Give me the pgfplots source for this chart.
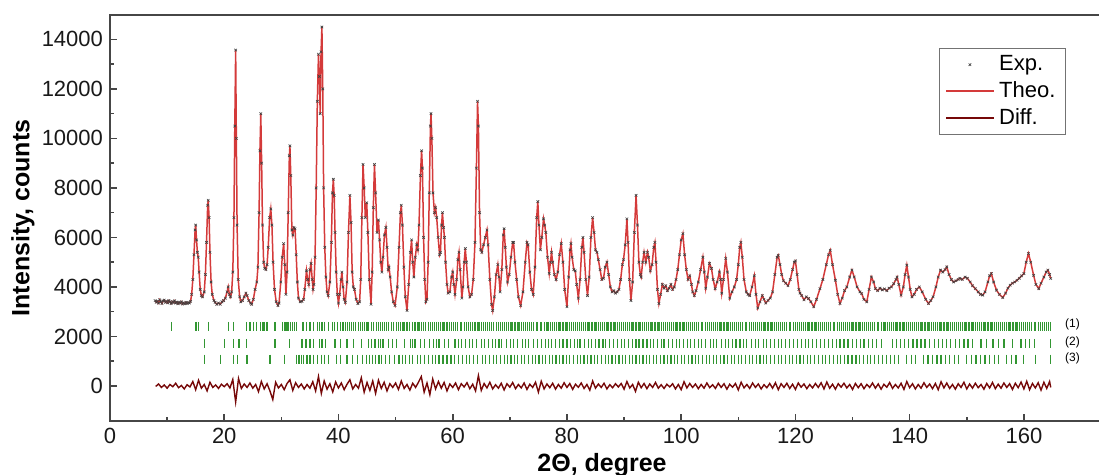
\documentclass[border=0pt]{standalone}
\usepackage{fontspec}
\setmainfont{Liberation Sans}
\usepackage{pgfplots}
\pgfplotsset{compat=1.18}
\usepackage{pgfplotstable}
\definecolor{theo}{RGB}{212,58,58}
\definecolor{diffc}{RGB}{118,8,8}
\definecolor{tickgreen}{RGB}{50,150,50}
\definecolor{axgray}{RGB}{70,70,70}
\pgfplotsset{
  mylineleg/.style={legend image code/.code={\draw[##1] (0cm,0cm) -- (0.85cm,0cm);}},
  mymarkleg/.style={legend image code/.code={\draw[##1] plot coordinates {(0.42cm,0cm)};}},
}

\pgfplotstableread{
x y
7.9 3450
8.1 3380
8.3 3420
8.5 3350
8.7 3480
8.9 3400
9.1 3330
9.3 3440
9.5 3470
9.7 3380
9.9 3420
10.1 3360
10.3 3450
10.5 3400
10.7 3330
10.9 3410
11.1 3370
11.3 3440
11.5 3350
11.7 3390
11.9 3320
12.1 3380
12.3 3340
12.5 3400
12.7 3310
12.9 3360
13.1 3320
13.3 3380
13.5 3330
13.7 3370
13.9 3350
14.1 3420
14.3 3700
14.5 4300
14.7 5300
14.9 6300
15.0 6500
15.15 5900
15.3 5400
15.45 5200
15.6 4600
15.8 3900
16.0 3650
16.2 3600
16.5 3800
16.7 4500
16.9 5800
17.1 7300
17.2 7500
17.35 6800
17.5 5400
17.7 4200
17.9 3700
18.2 3450
18.4 3380
18.7 3300
19.0 3350
19.3 3300
19.6 3400
19.9 3450
20.2 3550
20.5 3800
20.7 4000
20.9 3700
21.1 3600
21.3 3800
21.5 4600
21.7 6800
21.85 10500
22.0 13570
22.12 10000
22.25 6500
22.45 4300
22.7 3600
22.9 3400
23.2 3450
23.5 3600
23.8 3750
24.0 3650
24.3 3450
24.6 3350
24.8 3300
25.1 3500
25.4 3900
25.7 4200
25.9 4800
26.1 7000
26.25 9500
26.4 11000
26.55 9000
26.7 6500
26.9 5000
27.1 4750
27.3 4700
27.5 4900
27.7 5600
27.95 6800
28.15 7150
28.35 6500
28.55 5000
28.8 3900
29.1 3400
29.4 3250
29.6 3350
29.9 4200
30.15 5200
30.4 5750
30.6 4900
30.8 3700
31.0 4600
31.2 7000
31.4 9300
31.5 9700
31.65 8500
31.85 6300
32.0 6100
32.2 6400
32.4 6350
32.6 5300
32.8 4200
33.0 3550
33.3 3400
33.6 3420
33.9 3500
34.1 3900
34.4 4650
34.6 4300
34.8 4100
35.0 4700
35.2 4950
35.4 4300
35.55 3900
35.7 4100
35.9 5200
36.1 8000
36.3 11500
36.5 13400
36.65 12500
36.8 11000
36.95 13500
37.1 14500
37.25 12000
37.4 8000
37.6 5600
37.8 4400
38.0 3800
38.2 3650
38.5 4200
38.75 5800
38.95 7800
39.1 8350
39.25 7700
39.4 6200
39.6 4600
39.8 3700
40.0 3350
40.2 3700
40.45 4300
40.6 4600
40.8 4000
41.0 3500
41.2 3380
41.5 4200
41.75 6200
42.0 7700
42.2 6600
42.4 4600
42.6 4000
42.8 3900
43.1 3500
43.4 3330
43.7 3400
43.9 4300
44.1 6800
44.3 8950
44.5 8000
44.7 6800
44.95 7400
45.15 6200
45.4 4300
45.7 3300
45.9 4600
46.1 7200
46.3 8950
46.5 7800
46.75 6200
47.0 6700
47.2 5900
47.4 5000
47.6 4600
47.8 5200
48.05 6100
48.3 6400
48.5 5600
48.7 4700
48.85 4800
49.05 4400
49.3 3800
49.6 3400
49.9 3250
50.3 4000
50.6 5600
50.85 7000
51.0 7300
51.2 6500
51.45 4800
51.7 3600
52.0 3050
52.3 4100
52.6 5400
52.8 5900
53.0 5000
53.2 4400
53.45 5200
53.7 5700
53.9 5500
54.1 6500
54.35 8500
54.55 9500
54.7 8800
54.9 6000
55.1 4300
55.3 3400
55.5 3500
55.7 5000
55.9 7800
56.1 10500
56.2 11000
56.35 10000
56.55 7800
56.8 7000
57.0 7200
57.2 6800
57.45 6000
57.7 5300
57.85 5400
58.05 6500
58.2 7000
58.4 6400
58.55 6000
58.75 5000
59.0 4100
59.2 3750
59.5 3800
59.8 4400
60.0 4600
60.2 4100
60.4 3700
60.7 4300
60.9 5100
61.1 5400
61.3 4700
61.6 3550
61.8 4000
62.0 5000
62.2 5550
62.4 5000
62.7 4000
63.0 3600
63.3 3700
63.6 4300
63.9 5800
64.15 8800
64.35 11500
64.5 10500
64.7 7000
64.9 5500
65.1 5400
65.4 5700
65.7 6000
66.0 6300
66.2 5700
66.5 4300
66.8 3300
67.0 3050
67.3 3600
67.6 4500
67.9 4900
68.1 4400
68.3 3800
68.6 4700
68.85 6100
69.0 6350
69.2 5600
69.4 4800
69.6 4200
69.9 4500
70.2 5200
70.5 5800
70.65 5800
70.9 5000
71.2 4300
71.5 3600
71.9 3250
72.3 3800
72.7 5000
73.0 5800
73.2 5700
73.5 4600
73.8 3900
74.1 3700
74.4 4800
74.7 6800
74.9 7450
75.1 6500
75.35 5500
75.6 6000
75.9 6750
76.1 6500
76.3 6200
76.6 5200
76.9 4550
77.1 5000
77.3 5400
77.5 5000
77.8 4500
78.1 4300
78.4 4600
78.7 5300
79.0 5750
79.3 5000
79.6 3900
80.0 3200
80.3 4400
80.55 5500
80.7 5750
80.9 5200
81.2 4700
81.45 4650
81.7 4100
82.0 3550
82.3 4300
82.6 5600
82.8 6000
83.0 5400
83.3 4300
83.6 3650
83.9 4400
84.2 6000
84.5 6800
84.75 6200
85.0 5500
85.25 5400
85.5 5100
85.8 4700
86.1 4300
86.4 4350
86.7 4800
87.0 5000
87.3 4500
87.6 4000
87.9 3800
88.2 3850
88.5 3750
88.8 3800
89.1 3900
89.4 4300
89.7 4900
89.9 5100
90.2 5700
90.5 6750
90.7 5800
90.95 4300
91.2 3450
91.5 4200
91.8 6200
92.1 7700
92.35 6500
92.6 5000
92.85 4500
93.0 4400
93.25 5000
93.5 5400
93.8 5000
94.1 5400
94.3 5200
94.6 4650
94.9 4900
95.2 5600
95.4 5800
95.6 5000
95.85 3900
96.1 3330
96.4 3700
96.7 4100
97.0 3950
97.3 4050
97.6 3850
97.9 3950
98.2 4100
98.5 3900
98.8 4000
99.1 4300
99.4 4700
99.7 5300
100.0 5900
100.3 6150
100.6 5300
100.9 4700
101.2 4300
101.5 4450
101.8 4100
102.0 3800
102.3 3650
102.6 3850
103.0 4200
103.4 4700
103.8 5200
104.05 4600
104.3 3950
104.6 4400
104.95 4950
105.3 4750
105.6 4300
105.95 3930
106.3 4200
106.7 4600
106.9 4300
107.1 3750
107.4 4300
107.8 5150
108.1 4600
108.5 3550
108.9 3800
109.3 4000
109.7 4300
110.0 4900
110.25 5600
110.45 5800
110.7 5200
111.0 4300
111.4 3800
111.7 3700
112.0 3650
112.4 4000
112.8 4450
113.1 3700
113.4 3150
113.8 3400
114.2 3650
114.5 3500
114.8 3350
115.2 3450
115.6 3550
116.0 3800
116.4 4500
116.8 5200
117.0 5280
117.3 4900
117.6 4500
117.9 4250
118.3 4150
118.7 4050
119.1 4300
119.5 4700
119.8 5000
120.0 5050
120.3 4500
120.6 3900
120.8 3750
121.1 3650
121.5 3480
121.9 3600
122.3 3530
122.7 3400
123.2 3200
123.7 3500
124.3 3930
124.8 4300
125.4 4900
125.8 5300
126.1 5480
126.5 4900
127.0 4270
127.4 3700
127.8 3330
128.2 3550
128.6 3850
129.0 4000
129.5 4400
129.9 4680
130.3 4400
130.8 4000
131.3 3800
131.6 3730
132.0 3500
132.5 3400
132.9 3900
133.3 4400
133.7 4200
134.0 3930
134.4 3850
134.8 3950
135.2 3880
135.6 3920
136.0 3850
136.4 3950
136.8 4000
137.2 4130
137.6 4300
137.8 4400
138.1 4100
138.5 3670
138.9 4000
139.2 4500
139.5 4880
139.8 4400
140.1 3900
140.4 3600
140.8 3700
141.2 3900
141.7 4000
142.2 3800
142.8 3500
143.3 3330
143.7 3450
144.1 3600
144.6 4000
145.0 4400
145.4 4680
145.8 4600
146.2 4700
146.5 4810
146.9 4500
147.3 4300
147.7 4200
148.1 4250
148.5 4300
148.8 4350
149.2 4300
149.7 4400
150.1 4350
150.6 4200
151.0 4050
151.5 3930
152.0 3800
152.4 3700
152.8 3670
153.2 3800
153.7 4200
154.0 4450
154.3 4540
154.7 4200
155.2 3870
155.7 3700
156.3 3570
156.8 3750
157.2 3950
157.6 4070
158.0 4150
158.4 4200
158.8 4270
159.2 4350
159.6 4450
160.0 4540
160.4 5000
160.8 5350
161.2 5000
161.7 4470
162.1 4100
162.6 3930
163.0 4150
163.5 4400
163.9 4600
164.2 4680
164.5 4500
164.7 4340
}\profile

\pgfplotstableread{
x y
8.0 -20
8.5 80
9.0 -60
9.5 40
10.0 -90
10.5 60
11.0 -30
11.5 110
12.0 -70
12.5 20
13.0 -120
13.5 50
14.0 -40
14.5 180
15.0 -150
15.5 230
16.0 -90
16.5 60
17.0 -200
17.5 150
18.0 -60
18.5 40
19.0 -100
19.5 70
20.0 -30
20.5 90
21.0 -80
21.5 260
22.0 -650
22.5 300
23.0 -100
23.5 80
24.0 -60
24.5 120
25.0 -90
25.5 60
26.0 -230
26.5 180
27.0 -120
27.5 90
28.0 -200
28.5 -550
29.0 150
29.5 -80
30.0 60
30.5 -150
31.0 100
31.5 250
32.0 -180
32.5 130
33.0 -60
33.5 80
34.0 -120
34.5 60
35.0 -90
35.5 170
36.0 -200
36.5 380
37.0 -300
37.5 200
38.0 -130
38.5 90
39.0 -240
39.5 160
40.0 -80
40.5 120
41.0 -150
41.5 70
42.0 250
42.5 -120
43.0 60
43.5 -90
44.0 330
44.5 -250
45.0 140
45.5 -180
46.0 200
46.5 -300
47.0 230
47.5 -100
48.0 150
48.5 -200
49.0 90
49.5 -60
50.0 120
50.5 -140
51.0 200
51.5 -100
52.0 60
52.5 -170
53.0 110
53.5 -60
54.0 150
54.5 380
55.0 -250
55.5 120
56.0 -350
56.5 280
57.0 -120
57.5 180
58.0 -90
58.5 140
59.0 -200
59.5 80
60.0 -60
60.5 120
61.0 -150
61.5 90
62.0 -40
62.5 130
63.0 -110
63.5 70
64.0 -200
64.5 420
65.0 -180
65.5 100
66.0 -80
66.5 150
67.0 -120
67.5 50
68.0 -90
68.5 110
69.0 -160
69.5 90
70.0 -50
70.5 140
71.0 -110
71.5 60
72.0 -80
72.5 120
73.0 -140
73.5 70
74.0 -60
74.5 150
75.0 -250
75.5 190
76.0 -120
76.5 80
77.0 -70
77.5 110
78.0 -130
78.5 60
79.0 -90
79.5 130
80.0 -60
80.5 100
81.0 -140
81.5 70
82.0 -50
82.5 120
83.0 -100
83.5 60
84.0 -170
84.5 200
85.0 -90
85.5 80
86.0 -60
86.5 110
87.0 -120
87.5 50
88.0 -70
88.5 90
89.0 -40
89.5 100
90.0 -130
90.5 180
91.0 -80
91.5 60
92.0 -220
92.5 150
93.0 -70
93.5 100
94.0 -110
94.5 80
95.0 -60
95.5 140
96.0 -90
96.5 50
97.0 -100
97.5 70
98.0 -40
98.5 90
99.0 -120
99.5 60
100.0 -150
100.5 170
101.0 -80
101.5 100
102.0 -60
102.5 80
103.0 -110
103.5 60
104.0 -90
104.5 120
105.0 -70
105.5 50
106.0 -100
106.5 110
107.0 -60
107.5 90
108.0 -130
108.5 70
109.0 -50
109.5 100
110.0 -160
110.5 150
111.0 -80
111.5 60
112.0 -100
112.5 120
113.0 -60
113.5 80
114.0 -120
114.5 50
115.0 -70
115.5 100
116.0 -90
116.5 130
117.0 -150
117.5 90
118.0 -60
118.5 110
119.0 -100
119.5 70
120.0 -140
120.5 120
121.0 -50
121.5 80
122.0 -110
122.5 60
123.0 -80
123.5 100
124.0 -60
124.5 130
125.0 -120
125.5 160
126.0 -90
126.5 70
127.0 -130
127.5 90
128.0 -50
128.5 110
129.0 -80
129.5 60
130.0 -140
130.5 100
131.0 -70
131.5 90
132.0 -110
132.5 60
133.0 -60
133.5 120
134.0 -90
134.5 80
135.0 -130
135.5 70
136.0 -50
136.5 140
137.0 -100
137.5 60
138.0 -80
138.5 110
139.0 -140
139.5 180
140.0 -70
140.5 90
141.0 -120
141.5 60
142.0 -90
142.5 130
143.0 -60
143.5 80
144.0 -110
144.5 100
145.0 -150
145.5 170
146.0 -80
146.5 120
147.0 -100
147.5 60
148.0 -130
148.5 90
149.0 -60
149.5 150
150.0 -120
150.5 80
151.0 -90
151.5 110
152.0 -70
152.5 60
153.0 -130
153.5 100
154.0 -80
154.5 140
155.0 -110
155.5 70
156.0 -90
156.5 120
157.0 -60
157.5 90
158.0 -140
158.5 110
159.0 -70
159.5 160
160.0 -120
160.5 190
161.0 -150
161.5 100
162.0 -80
162.5 130
163.0 -170
163.5 150
164.0 -100
164.5 180
164.7 -60
}\diffdata

\pgfplotstableread[row sep=\\]{
x \\ 10.8 \\ 15.05 \\ 15.45 \\ 17.2 \\ 20.7 \\ 21.6 \\ 23.9 \\ 24.5 \\ 25.1 \\ 25.7 \\ 26.3 \\ 26.8 \\ 27.1 \\ 27.5 \\ 28.9 \\ 30.2 \\ 30.5 \\ 30.8 \\ 31.0 \\ 31.3 \\ 31.6 \\ 31.9 \\ 32.3 \\ 32.7 \\ 33.8 \\ 34.4 \\ 35.0 \\ 35.6 \\ 36.3 \\ 36.7 \\ 37.1 \\ 37.5 \\ 38.3 \\ 38.9 \\ 39.3 \\ 39.8 \\ 40.3 \\ 40.8 \\ 41.2 \\ 41.6 \\ 41.9 \\ 42.3 \\ 42.7 \\ 43.0 \\ 43.5 \\ 43.8 \\ 44.2 \\ 44.6 \\ 45.0 \\ 45.3 \\ 45.8 \\ 46.2 \\ 46.6 \\ 47.0 \\ 47.3 \\ 47.7 \\ 48.0 \\ 48.4 \\ 48.8 \\ 49.3 \\ 49.7 \\ 50.1 \\ 50.5 \\ 50.9 \\ 51.3 \\ 51.6 \\ 52.0 \\ 52.5 \\ 52.9 \\ 53.4 \\ 53.8 \\ 54.1 \\ 54.5 \\ 54.9 \\ 55.3 \\ 55.7 \\ 56.1 \\ 56.4 \\ 56.8 \\ 57.2 \\ 57.5 \\ 57.9 \\ 58.3 \\ 58.6 \\ 59.0 \\ 59.4 \\ 59.8 \\ 60.1 \\ 60.5 \\ 60.9 \\ 61.3 \\ 61.6 \\ 62.0 \\ 62.4 \\ 62.7 \\ 63.1 \\ 63.5 \\ 63.9 \\ 64.3 \\ 64.6 \\ 65.0 \\ 65.4 \\ 65.7 \\ 66.1 \\ 66.5 \\ 66.8 \\ 67.2 \\ 67.6 \\ 68.0 \\ 68.3 \\ 68.7 \\ 69.1 \\ 69.4 \\ 69.8 \\ 70.2 \\ 70.5 \\ 70.9 \\ 71.3 \\ 71.6 \\ 72.0 \\ 72.4 \\ 72.7 \\ 73.1 \\ 73.5 \\ 73.8 \\ 74.2 \\ 74.6 \\ 74.9 \\ 75.3 \\ 75.6 \\ 76.0 \\ 76.4 \\ 76.7 \\ 77.1 \\ 77.5 \\ 77.8 \\ 78.2 \\ 78.6 \\ 78.9 \\ 79.3 \\ 79.7 \\ 80.0 \\ 80.4 \\ 80.8 \\ 81.1 \\ 81.5 \\ 81.9 \\ 82.2 \\ 82.6 \\ 82.9 \\ 83.3 \\ 83.7 \\ 84.0 \\ 84.4 \\ 84.8 \\ 85.1 \\ 85.5 \\ 85.9 \\ 86.2 \\ 86.6 \\ 87.0 \\ 87.3 \\ 87.7 \\ 88.1 \\ 88.4 \\ 88.8 \\ 89.2 \\ 89.5 \\ 89.9 \\ 90.3 \\ 90.6 \\ 91.0 \\ 91.4 \\ 91.7 \\ 92.1 \\ 92.5 \\ 92.8 \\ 93.2 \\ 93.6 \\ 93.9 \\ 94.3 \\ 94.7 \\ 95.0 \\ 95.4 \\ 95.8 \\ 96.1 \\ 96.5 \\ 96.9 \\ 97.2 \\ 97.6 \\ 98.0 \\ 98.3 \\ 98.7 \\ 99.1 \\ 99.4 \\ 99.8 \\ 100.2 \\ 100.5 \\ 100.9 \\ 101.3 \\ 101.6 \\ 102.0 \\ 102.4 \\ 102.7 \\ 103.1 \\ 103.5 \\ 103.8 \\ 104.2 \\ 104.6 \\ 104.9 \\ 105.3 \\ 105.7 \\ 106.0 \\ 106.4 \\ 106.8 \\ 107.1 \\ 107.5 \\ 107.9 \\ 108.2 \\ 108.6 \\ 109.0 \\ 109.3 \\ 109.7 \\ 110.1 \\ 110.4 \\ 110.8 \\ 111.2 \\ 111.5 \\ 111.9 \\ 112.3 \\ 112.6 \\ 113.0 \\ 113.4 \\ 113.7 \\ 114.1 \\ 114.5 \\ 114.8 \\ 115.2 \\ 115.6 \\ 115.9 \\ 116.3 \\ 116.7 \\ 117.0 \\ 117.4 \\ 117.8 \\ 118.1 \\ 118.5 \\ 118.9 \\ 119.2 \\ 119.6 \\ 120.0 \\ 120.3 \\ 120.7 \\ 121.1 \\ 121.4 \\ 121.8 \\ 122.2 \\ 122.5 \\ 122.9 \\ 123.3 \\ 123.6 \\ 124.0 \\ 124.4 \\ 124.7 \\ 125.1 \\ 125.5 \\ 125.8 \\ 126.2 \\ 126.6 \\ 126.9 \\ 127.3 \\ 127.7 \\ 128.0 \\ 128.4 \\ 128.8 \\ 129.1 \\ 129.5 \\ 129.9 \\ 130.2 \\ 130.6 \\ 131.0 \\ 131.3 \\ 131.7 \\ 132.1 \\ 132.4 \\ 132.8 \\ 133.2 \\ 133.5 \\ 133.9 \\ 134.3 \\ 134.6 \\ 135.0 \\ 135.4 \\ 135.7 \\ 136.1 \\ 136.5 \\ 136.8 \\ 137.2 \\ 137.6 \\ 137.9 \\ 138.3 \\ 138.7 \\ 139.0 \\ 139.4 \\ 139.8 \\ 140.1 \\ 140.5 \\ 140.9 \\ 141.2 \\ 141.6 \\ 142.0 \\ 142.3 \\ 142.7 \\ 143.1 \\ 143.4 \\ 143.8 \\ 144.2 \\ 144.5 \\ 144.9 \\ 145.3 \\ 145.6 \\ 146.0 \\ 146.4 \\ 146.7 \\ 147.1 \\ 147.5 \\ 147.8 \\ 148.2 \\ 148.6 \\ 148.9 \\ 149.3 \\ 149.7 \\ 150.0 \\ 150.4 \\ 150.8 \\ 151.1 \\ 151.5 \\ 151.9 \\ 152.2 \\ 152.6 \\ 153.0 \\ 153.3 \\ 153.7 \\ 154.1 \\ 154.4 \\ 154.8 \\ 155.2 \\ 155.5 \\ 155.9 \\ 156.3 \\ 156.6 \\ 157.0 \\ 157.4 \\ 157.7 \\ 158.1 \\ 158.5 \\ 158.8 \\ 159.2 \\ 159.6 \\ 159.9 \\ 160.3 \\ 160.7 \\ 161.0 \\ 161.4 \\ 161.8 \\ 162.1 \\ 162.5 \\ 162.9 \\ 163.2 \\ 163.6 \\ 164.0 \\ 164.3 \\ 164.7 \\
}\rowone

\pgfplotstableread[row sep=\\]{
x \\ 16.6 \\ 20.0 \\ 21.6 \\ 22.6 \\ 23.9 \\ 28.9 \\ 31.4 \\ 33.6 \\ 34.3 \\ 35.0 \\ 35.6 \\ 36.7 \\ 37.1 \\ 37.7 \\ 39.4 \\ 40.3 \\ 41.5 \\ 42.6 \\ 44.1 \\ 45.2 \\ 45.8 \\ 46.4 \\ 47.0 \\ 47.4 \\ 47.8 \\ 48.7 \\ 49.5 \\ 50.2 \\ 51.5 \\ 52.6 \\ 53.0 \\ 53.4 \\ 54.3 \\ 55.0 \\ 55.9 \\ 56.6 \\ 57.2 \\ 57.6 \\ 58.5 \\ 59.3 \\ 60.4 \\ 61.0 \\ 61.6 \\ 62.3 \\ 63.0 \\ 63.4 \\ 64.2 \\ 65.0 \\ 65.6 \\ 66.3 \\ 66.9 \\ 67.5 \\ 68.1 \\ 68.5 \\ 69.4 \\ 70.1 \\ 70.7 \\ 71.4 \\ 72.2 \\ 72.8 \\ 73.3 \\ 74.1 \\ 74.8 \\ 75.6 \\ 76.2 \\ 76.8 \\ 77.3 \\ 78.0 \\ 78.7 \\ 79.3 \\ 80.0 \\ 80.6 \\ 81.3 \\ 81.9 \\ 82.3 \\ 83.1 \\ 83.8 \\ 84.3 \\ 85.0 \\ 85.6 \\ 86.3 \\ 86.8 \\ 87.4 \\ 88.2 \\ 88.9 \\ 89.5 \\ 90.1 \\ 90.8 \\ 91.5 \\ 92.1 \\ 92.6 \\ 93.3 \\ 94.0 \\ 94.6 \\ 95.2 \\ 95.9 \\ 96.6 \\ 97.0 \\ 97.8 \\ 98.5 \\ 99.2 \\ 99.7 \\ 100.4 \\ 101.1 \\ 101.7 \\ 102.4 \\ 103.0 \\ 103.6 \\ 104.3 \\ 105.1 \\ 105.7 \\ 106.2 \\ 107.0 \\ 107.7 \\ 108.3 \\ 109.0 \\ 109.6 \\ 110.3 \\ 110.9 \\ 111.5 \\ 112.3 \\ 113.0 \\ 113.6 \\ 114.4 \\ 115.0 \\ 115.7 \\ 116.3 \\ 117.0 \\ 117.5 \\ 118.2 \\ 119.0 \\ 119.6 \\ 120.3 \\ 121.0 \\ 121.7 \\ 122.3 \\ 123.0 \\ 123.7 \\ 124.4 \\ 125.1 \\ 125.8 \\ 126.5 \\ 127.2 \\ 127.8 \\ 128.5 \\ 129.2 \\ 130.0 \\ 130.7 \\ 131.4 \\ 132.0 \\ 132.8 \\ 133.5 \\ 134.2 \\ 135.0 \\ 137.0 \\ 137.7 \\ 138.4 \\ 139.1 \\ 139.8 \\ 140.6 \\ 141.3 \\ 142.0 \\ 142.7 \\ 143.5 \\ 144.3 \\ 145.0 \\ 145.8 \\ 146.5 \\ 147.2 \\ 148.0 \\ 148.7 \\ 149.5 \\ 150.2 \\ 151.0 \\ 152.5 \\ 153.5 \\ 154.6 \\ 155.5 \\ 156.5 \\ 158.0 \\ 159.5 \\ 160.3 \\ 161.0 \\ 161.8 \\ 164.6 \\
}\rowtwo

\pgfplotstableread[row sep=\\]{
x \\ 16.5 \\ 19.4 \\ 21.6 \\ 22.3 \\ 24.0 \\ 28.0 \\ 30.5 \\ 32.7 \\ 33.1 \\ 33.5 \\ 33.9 \\ 34.5 \\ 35.0 \\ 35.6 \\ 36.3 \\ 37.0 \\ 37.6 \\ 38.2 \\ 39.6 \\ 40.4 \\ 41.5 \\ 42.4 \\ 43.3 \\ 44.2 \\ 44.9 \\ 45.4 \\ 45.9 \\ 46.5 \\ 47.1 \\ 47.6 \\ 48.3 \\ 49.0 \\ 49.8 \\ 50.6 \\ 51.2 \\ 51.8 \\ 52.4 \\ 53.0 \\ 53.8 \\ 54.4 \\ 55.1 \\ 55.8 \\ 56.5 \\ 57.0 \\ 57.6 \\ 58.3 \\ 59.0 \\ 59.7 \\ 60.3 \\ 61.0 \\ 61.7 \\ 62.4 \\ 63.0 \\ 63.6 \\ 64.3 \\ 65.2 \\ 65.8 \\ 66.4 \\ 67.1 \\ 67.7 \\ 68.3 \\ 69.0 \\ 69.6 \\ 70.2 \\ 70.8 \\ 71.4 \\ 72.0 \\ 72.6 \\ 73.3 \\ 73.9 \\ 74.5 \\ 75.1 \\ 75.7 \\ 76.3 \\ 76.9 \\ 77.5 \\ 78.1 \\ 78.7 \\ 79.3 \\ 79.9 \\ 80.5 \\ 81.2 \\ 81.8 \\ 82.4 \\ 83.0 \\ 83.6 \\ 84.2 \\ 84.8 \\ 85.4 \\ 86.0 \\ 86.7 \\ 87.3 \\ 87.9 \\ 88.5 \\ 89.1 \\ 89.7 \\ 90.3 \\ 90.9 \\ 91.5 \\ 92.1 \\ 92.7 \\ 93.3 \\ 93.9 \\ 94.5 \\ 95.1 \\ 95.7 \\ 96.4 \\ 97.0 \\ 97.6 \\ 98.2 \\ 98.8 \\ 99.4 \\ 100.0 \\ 100.6 \\ 101.3 \\ 101.9 \\ 102.5 \\ 103.1 \\ 103.7 \\ 104.4 \\ 105.0 \\ 105.6 \\ 106.2 \\ 106.9 \\ 107.5 \\ 108.1 \\ 108.8 \\ 109.4 \\ 110.0 \\ 110.6 \\ 111.3 \\ 111.9 \\ 112.5 \\ 113.2 \\ 113.8 \\ 114.4 \\ 115.0 \\ 115.7 \\ 116.3 \\ 117.0 \\ 117.6 \\ 118.2 \\ 118.9 \\ 119.5 \\ 120.2 \\ 120.8 \\ 121.4 \\ 122.1 \\ 122.7 \\ 123.4 \\ 124.0 \\ 124.7 \\ 125.3 \\ 126.0 \\ 126.6 \\ 127.3 \\ 127.9 \\ 128.6 \\ 129.2 \\ 129.9 \\ 130.6 \\ 131.2 \\ 131.9 \\ 132.6 \\ 133.2 \\ 133.9 \\ 134.6 \\ 135.3 \\ 136.0 \\ 136.6 \\ 137.3 \\ 138.0 \\ 139.5 \\ 140.3 \\ 141.0 \\ 142.4 \\ 143.2 \\ 144.0 \\ 144.8 \\ 145.5 \\ 146.3 \\ 147.0 \\ 147.8 \\ 148.5 \\ 150.0 \\ 150.8 \\ 151.6 \\ 152.4 \\ 153.2 \\ 154.0 \\ 154.8 \\ 155.6 \\ 157.0 \\ 157.8 \\ 158.6 \\ 160.0 \\ 162.0 \\ 164.6 \\
}\rowthree

\begin{document}
\begin{tikzpicture}
\begin{axis}[
  at={(0,0)}, anchor=south west,
  scale only axis, width=497.5pt, height=203pt,
  xmin=0, xmax=174.2, ymin=-1415, ymax=14985,
  axis line style={axgray, line width=1pt},
  tick style={axgray, line width=0.8pt},
  tick align=inside,
  xtick pos=left, ytick pos=left,
  xtick={0,20,...,160}, ytick={0,2000,...,14000},
  minor x tick num=1, minor y tick num=1,
  major tick length=3.5pt, minor tick length=2pt,
  scaled y ticks=false, scaled x ticks=false,
  ticklabel style={font=\fontsize{11}{13}\selectfont, black!90},
  /pgf/number format/assume math mode=true,
  /pgf/number format/set thousands separator={},
  every axis y label/.style={at={(axis description cs:-0.0874,0.5)}, rotate=90, anchor=center},
  every axis x label/.style={at={(axis description cs:0.4945,-0.108)}, anchor=center},
  ylabel={\bfseries\fontsize{12.5}{14}\selectfont Intensity, counts},
  xlabel={\bfseries\fontsize{12.5}{14}\selectfont 2Θ, degree},
  legend style={at={(axis description cs:0.9608,0.9187)}, anchor=north east,
    draw=black!55, line width=0.6pt, font=\fontsize{11}{13.25}\selectfont,
    inner xsep=3pt, inner ysep=1.5pt, cells={anchor=west}},
  legend cell align=left,
]
\addplot[only marks, mark=x, mark size=0.9pt, mark options={draw=black!75, line width=0.3pt}, mymarkleg]
  table[x=x,y=y] {\profile};
\addlegendentry{Exp.}
\addplot[no marks, color=theo, line width=0.75pt, mylineleg]
  table[x=x,y=y] {\profile};
\addlegendentry{Theo.}
\addplot[no marks, color=diffc, line width=0.7pt, mylineleg]
  table[x=x,y=y] {\diffdata};
\addlegendentry{Diff.}
\addplot[forget plot, only marks, color=tickgreen, mark=|, mark size=2.25pt, mark options={draw=tickgreen, line width=0.6pt}]
  table[x index=0, y index=0, y expr=2410] {\rowone};
\addplot[forget plot, only marks, color=tickgreen, mark=|, mark size=2.25pt, mark options={draw=tickgreen, line width=0.6pt}]
  table[x index=0, y index=0, y expr=1725] {\rowtwo};
\addplot[forget plot, only marks, color=tickgreen, mark=|, mark size=2.25pt, mark options={draw=tickgreen, line width=0.6pt}]
  table[x index=0, y index=0, y expr=1080] {\rowthree};
\node[font=\fontsize{6}{7}\selectfont] at (axis cs:168.5,2490) {(1)};
\node[font=\fontsize{6}{7}\selectfont] at (axis cs:168.5,1755) {(2)};
\node[font=\fontsize{6}{7}\selectfont] at (axis cs:168.5,1105) {(3)};
\end{axis}
\pgfresetboundingbox
\useasboundingbox (-55pt,-27pt) rectangle (494.5pt,210.5pt);
\end{tikzpicture}
\end{document}
